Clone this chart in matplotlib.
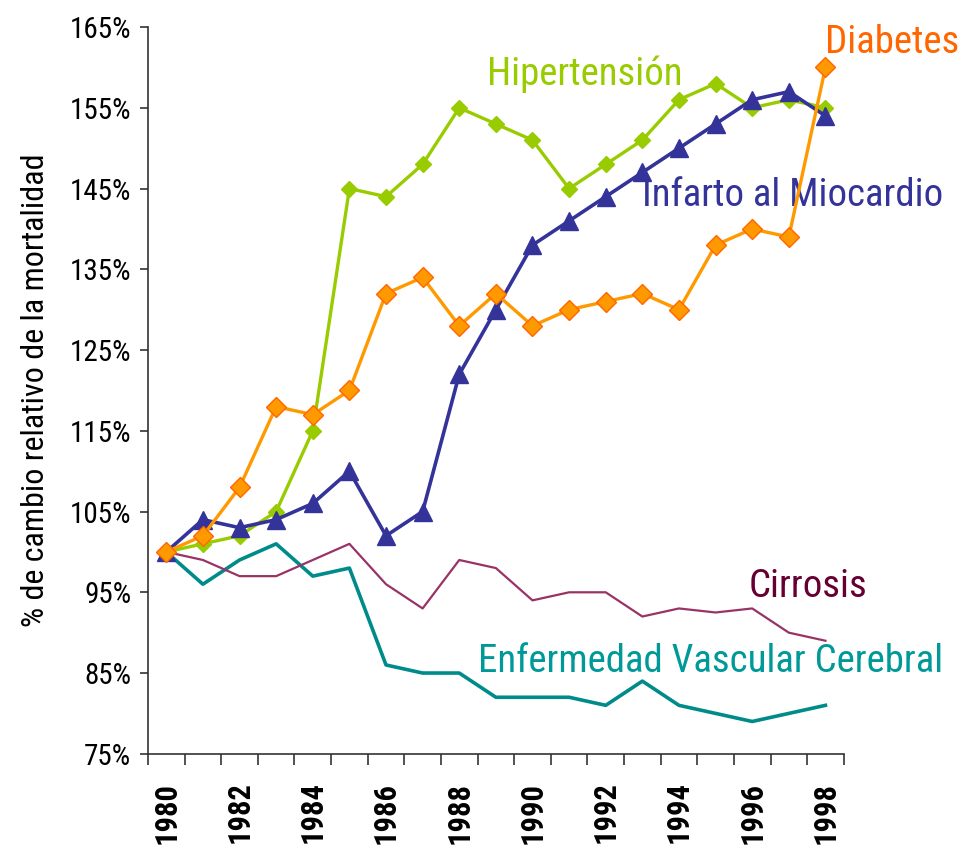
import matplotlib
matplotlib.use("Agg")
import matplotlib.pyplot as plt
from matplotlib import font_manager
from matplotlib.ticker import FixedLocator

# fuente estrecha tipo Arial Narrow, la primera que esté instalada
installed = {f.name for f in font_manager.fontManager.ttflist}
narrow = [n for n in ["Liberation Sans Narrow", "Arial Narrow", "Roboto Condensed",
                      "Archivo Narrow", "PT Sans Narrow"] if n in installed]
plt.rcParams['font.family'] = narrow[:1] + ['Liberation Sans', 'DejaVu Sans']

years = list(range(1980, 1999))

hipertension = [100, 101, 102, 105, 115, 145, 144, 148, 155, 153, 151, 145,
                148, 151, 156, 158, 155, 156, 155]
diabetes = [100, 102, 108, 118, 117, 120, 132, 134, 128, 132, 128, 130,
            131, 132, 130, 138, 140, 139, 160]
infarto = [100, 104, 103, 104, 106, 110, 102, 105, 122, 130, 138, 141,
           144, 147, 150, 153, 156, 157, 154]
cirrosis = [100, 99, 97, 97, 99, 101, 96, 93, 99, 98, 94, 95,
            95, 92, 93, 92.5, 93, 90, 89]
evc = [100, 96, 99, 101, 97, 98, 86, 85, 85, 82, 82, 82,
       81, 84, 81, 80, 79, 80, 81]

y_ticks = list(range(75, 166, 10))
x_labels = list(range(1980, 1999, 2))

fig = plt.figure(figsize=(9.61, 8.46), dpi=100)
ax = fig.add_axes([0.154, 0.109, 0.724, 0.859])

ax.plot(years, evc, color="#008B8B", lw=2.6, zorder=2)
ax.plot(years, cirrosis, color="#993366", lw=1.6, zorder=2)
ax.plot(years, hipertension, color="#99CC00", lw=2.4, marker="D", ms=8,
        mfc="#99CC00", mec="#99CC00", zorder=3)
ax.plot(years, infarto, color="#333399", lw=2.6, marker="^", ms=13,
        mfc="#333399", mec="#333399", zorder=4)
ax.plot(years, diabetes, color="#FF9900", lw=2.4, marker="D", ms=10,
        mfc="#FF9900", mec="#FF6600", mew=1, zorder=5)

# etiquetas de las series
lab = dict(fontsize=28, va="baseline", ha="left", clip_on=False)
ax.text(1988.75, 157.8, "Hipertensión", color="#99CC00", **lab)
ax.text(1998.0, 161.8, "Diabetes", color="#FF6600", **lab)
ax.text(1993.0, 142.9, "Infarto al Miocardio", color="#333399", **lab)
ax.text(1995.9, 94.4, "Cirrosis", color="#660033", **lab)
ax.text(1988.5, 85.1, "Enfermedad Vascular Cerebral", color="#009999", **lab)

ax.set_xlim(1979.5, 1998.5)
ax.set_ylim(75, 165)
ax.set_yticks(y_ticks)
ax.set_yticklabels([f"{v}%" for v in y_ticks], fontsize=21)
ax.set_xticks(x_labels)
ax.set_xticklabels([str(y) for y in x_labels], rotation=90, fontsize=22,
                   fontweight="bold", va="top")
ax.xaxis.set_minor_locator(FixedLocator([y + 0.5 for y in range(1979, 1999)]))
ax.tick_params(axis="x", which="major", length=0, pad=20)
ax.tick_params(axis="x", which="minor", length=8, width=1.2, color="#333333")
ax.tick_params(axis="y", length=6, width=1.2, color="#333333", pad=6)

for s in ["top", "right"]:
    ax.spines[s].set_visible(False)
for s in ["left", "bottom"]:
    ax.spines[s].set_color("#333333")
    ax.spines[s].set_linewidth(1.2)

ax.set_ylabel("% de cambio relativo de la mortalidad", fontsize=23, labelpad=14)

fig.savefig("out.png", dpi=100)
